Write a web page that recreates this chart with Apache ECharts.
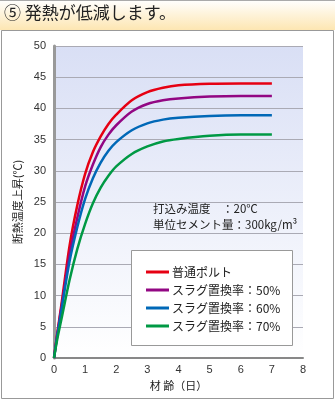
<!DOCTYPE html>
<html><head><meta charset="utf-8">
<script src="https://cdn.jsdelivr.net/npm/echarts@6/dist/echarts.min.js"></script>
<style>html,body{margin:0;padding:0;background:#fff;}#c{width:335px;height:401px;}</style>
</head><body><div id="c"></div>
<script>
var days = [0, 0.1, 0.25, 0.5, 0.75, 1, 1.25, 1.5, 1.75, 2, 2.5, 3, 3.5, 4, 5, 6, 7];
var normal = [0, 3.8, 9, 18, 24.5, 29.5, 33, 35.5, 37.5, 39, 41.3, 42.6, 43.3, 43.7, 43.95, 44, 44];
var slag50 = [0, 3.6, 8.5, 16.5, 22.5, 27.5, 31, 33.8, 35.8, 37.3, 39.5, 40.7, 41.3, 41.6, 41.9, 42, 42];
var slag60 = [0, 3.4, 8, 15.5, 21, 25.5, 28.8, 31.3, 33.2, 34.6, 36.5, 37.6, 38.2, 38.5, 38.8, 38.9, 38.9];
var slag70 = [0, 2.9, 6.5, 12.5, 17.5, 21.5, 24.8, 27.3, 29.2, 30.7, 32.7, 33.9, 34.7, 35.1, 35.6, 35.8, 35.8];
var seriesNames = ['普通ポルト', 'スラグ置換率：50%', 'スラグ置換率：60%', 'スラグ置換率：70%'];
var seriesColors = ['#e60012', '#920783', '#0068b7', '#009944'];
var xTicks = [0, 1, 2, 3, 4, 5, 6, 7, 8];
var yTicks = [0, 5, 10, 15, 20, 25, 30, 35, 40, 45, 50];
var title = '⑤ 発熱が低減します。';
var note1 = '打込み温度　：20℃';
var note2 = '単位セメント量：300kg/m³';

var all = [normal, slag50, slag60, slag70];
var font = '"Noto Sans CJK JP", sans-serif';
var chart = echarts.init(document.getElementById('c'));
chart.setOption({
  animation: false,
  textStyle: {fontFamily: font},
  grid: {left: 54, top: 46, right: 32, bottom: 43, show: true, borderWidth: 0,
    backgroundColor: {type: 'linear', x: 0, y: 0, x2: 0, y2: 1,
      colorStops: [{offset: 0, color: '#d9dff5'}, {offset: 1, color: '#ffffff'}]}},
  xAxis: {type: 'value', min: 0, max: 8, interval: 1,
    name: '材 齢（日）', nameLocation: 'middle', nameGap: 19,
    nameTextStyle: {color: '#222', fontSize: 11, fontFamily: font},
    axisLine: {lineStyle: {color: '#888', width: 2}},
    axisTick: {show: false}, splitLine: {show: false},
    axisLabel: {color: '#333', fontSize: 11, margin: 6, fontFamily: 'Liberation Sans, sans-serif',
      formatter: function(v){ return xTicks.indexOf(v) >= 0 ? String(v) : ''; }}},
  yAxis: {type: 'value', min: 0, max: 50, interval: 5,
    name: '断熱温度上昇(℃)', nameLocation: 'middle', nameGap: 31, nameRotate: 90,
    nameTextStyle: {color: '#222', fontSize: 11, fontFamily: font},
    axisLine: {show: true, lineStyle: {color: '#999', width: 3}},
    axisTick: {show: false},
    splitLine: {lineStyle: {color: '#aaaab4', width: 1}},
    axisLabel: {color: '#333', fontSize: 11, margin: 8, fontFamily: 'Liberation Sans, sans-serif',
      formatter: function(v){ return yTicks.indexOf(v) >= 0 ? String(v) : ''; }}},
  legend: {orient: 'vertical', left: 141, top: 261, itemWidth: 23, itemHeight: 3, itemGap: 6,
    icon: 'rect', data: seriesNames, z: 10,
    textStyle: {color: '#222', fontSize: 12, fontFamily: font, padding: [0, 0, 0, -2]}},
  graphic: [
    {type: 'rect', shape: {x: 0, y: 0, width: 335, height: 30}, silent: true, z: -10,
      style: {fill: {type: 'linear', x: 0, y: 0, x2: 0, y2: 1,
        colorStops: [{offset: 0, color: '#ffffff'}, {offset: 1, color: '#fde6b2'}]}}},
    {type: 'line', shape: {x1: 0, y1: 0.5, x2: 335, y2: 0.5}, style: {stroke: '#aaa', lineWidth: 1}, z: -5},
    {type: 'rect', shape: {x: 1.5, y: 30.5, width: 332, height: 368}, silent: true, z: -9,
      style: {fill: 'none', stroke: '#999', lineWidth: 1}},
    {type: 'text', left: 4, top: 4, z: 10,
      style: {text: title, fill: '#222', font: '17px ' + font}},
    {type: 'text', left: 153, top: 203, z: 10,
      style: {text: note1, fill: '#222', font: '11.5px ' + font}},
    {type: 'text', left: 153, top: 219, z: 10,
      style: {text: note2, fill: '#222', font: '11.5px ' + font}},
    {type: 'rect', shape: {x: 131.5, y: 250.5, width: 161, height: 95}, z: 1,
      style: {fill: '#fff', stroke: '#999', lineWidth: 1}}
  ],
  series: all.map(function(arr, i){
    return {name: seriesNames[i], type: 'line', data: days.map(function(d, j){ return [d, arr[j]]; }),
      smooth: 0.3, showSymbol: false, symbol: 'none',
      lineStyle: {color: seriesColors[i], width: 2.5}, itemStyle: {color: seriesColors[i]}, z: 3};
  })
});
</script></body></html>
